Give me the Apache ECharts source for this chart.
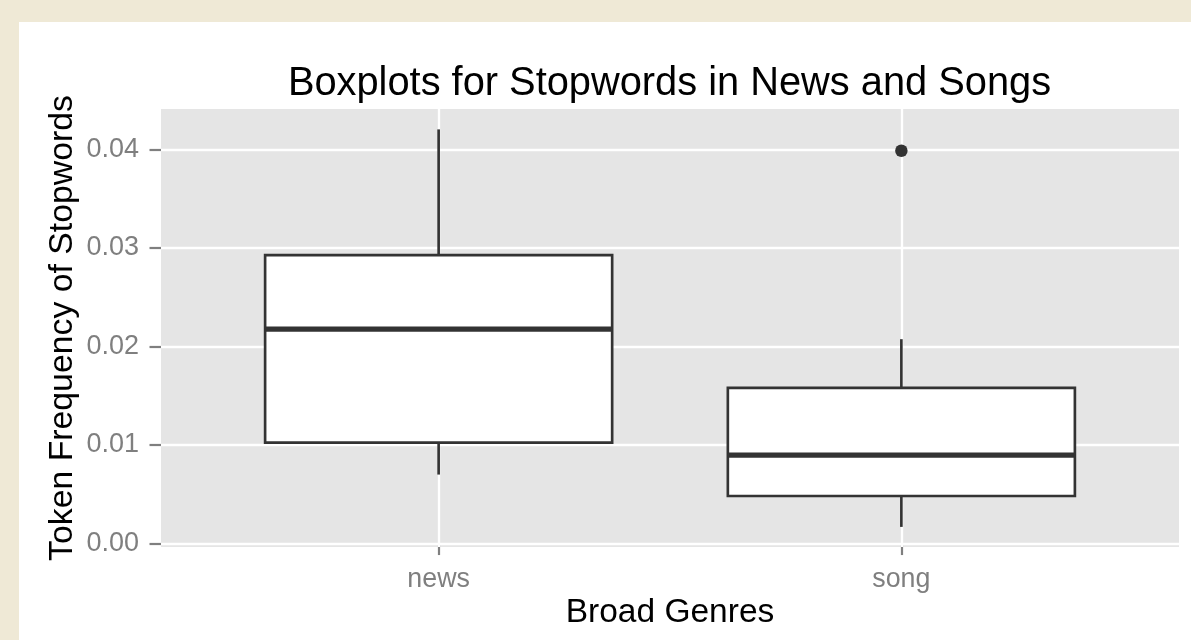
<!DOCTYPE html>
<html>
<head>
<meta charset="utf-8">
<script src="https://cdn.jsdelivr.net/npm/echarts@6/dist/echarts.min.js"></script>
<style>
  html, body { margin: 0; padding: 0; background: #efe9d6; }
  #wrap { position: relative; width: 1191px; height: 640px; overflow: hidden; }
  #paper { position: absolute; left: 19px; top: 22px; right: 0; bottom: 0; background: #ffffff; }
  #chart { position: absolute; left: 0; top: 0; width: 1191px; height: 640px; }
</style>
</head>
<body>
<div id="wrap">
  <div id="paper"></div>
  <div id="chart"></div>
</div>
<script>
// ---- data ----
const categories = ['news', 'song'];
const lowerWhisker = [0.00700, 0.00169];
const q1 = [0.01025, 0.00483];
const median = [0.02177, 0.00898];
const q3 = [0.02927, 0.01580];
const upperWhisker = [0.04203, 0.02074];
const outlierCategory = ['song'];
const outlierValue = [0.03986];
const yMajorTicks = [0, 0.01, 0.02, 0.03, 0.04];
const yMinorTicks = [0.005, 0.015, 0.025, 0.035];

const FONT = "'Liberation Sans', Arial, Helvetica, sans-serif";
const INK = '#333333';
const BOX_WIDTH = 0.75;

const xPos = categories.map((c, i) => i + 1);
const boxData = categories.map((c, i) => [xPos[i], lowerWhisker[i], q1[i], median[i], q3[i], upperWhisker[i]]);
const outlierData = outlierCategory.map((c, i) => [categories.indexOf(c) + 1, outlierValue[i]]);

const majorStyle = { color: '#ffffff', width: 2.3, type: 'solid' };
const minorStyle = { color: '#f2f2f2', width: 1.2, type: 'solid' };
const gridLines = []
  .concat(yMinorTicks.map(v => ({ yAxis: v, lineStyle: minorStyle })))
  .concat(yMajorTicks.map(v => ({ yAxis: v, lineStyle: majorStyle })))
  .concat(xPos.map(v => ({ xAxis: v, lineStyle: majorStyle })));

const chart = echarts.init(document.getElementById('chart'), null, { renderer: 'canvas' });
chart.setOption({
  animation: false,
  backgroundColor: 'transparent',
  textStyle: { fontFamily: FONT },
  title: {
    text: 'Boxplots for Stopwords in News and Songs',
    left: 669.5,
    top: 64,
    padding: 0,
    textAlign: 'center',
    textStyle: { fontFamily: FONT, fontSize: 39.8, fontWeight: 'normal', color: '#000000' }
  },
  grid: {
    left: 161, top: 109, width: 1018, height: 438,
    show: true, backgroundColor: '#e5e5e5', borderWidth: 0
  },
  xAxis: {
    type: 'value',
    min: 0.4, max: 2.6,
    name: 'Broad Genres',
    nameLocation: 'middle',
    nameGap: 49,
    nameMoveOverlap: false,
    nameTextStyle: { fontFamily: FONT, fontSize: 33.5, color: '#000000' },
    axisLine: { show: false },
    splitLine: { show: false },
    axisTick: { show: true, length: 11.5, customValues: xPos, lineStyle: { color: '#7f7f7f', width: 2.2 } },
    axisLabel: {
      customValues: xPos,
      margin: 19,
      fontFamily: FONT, fontSize: 26.8, color: '#7f7f7f',
      formatter: v => categories[Math.round(v) - 1] || ''
    }
  },
  yAxis: {
    type: 'value',
    min: -0.00035, max: 0.0441,
    name: 'Token Frequency of Stopwords',
    nameLocation: 'middle',
    nameGap: 81,
    nameMoveOverlap: false,
    nameTextStyle: { fontFamily: FONT, fontSize: 33.8, color: '#000000' },
    axisLine: { show: false },
    splitLine: { show: false },
    axisTick: { show: true, length: 11.5, customValues: yMajorTicks, lineStyle: { color: '#7f7f7f', width: 2.2 } },
    axisLabel: {
      customValues: yMajorTicks,
      margin: 22,
      fontFamily: FONT, fontSize: 27, color: '#7f7f7f',
      formatter: v => v.toFixed(2)
    }
  },
  series: [
    {
      type: 'custom',
      z: 3,
      data: boxData,
      encode: { x: 0, y: [1, 2, 3, 4, 5] },
      renderItem: function (params, api) {
        const x = api.value(0);
        const pLo = api.coord([x, api.value(1)]);
        const pQ1 = api.coord([x, api.value(2)]);
        const pMed = api.coord([x, api.value(3)]);
        const pQ3 = api.coord([x, api.value(4)]);
        const pHi = api.coord([x, api.value(5)]);
        const half = api.size([BOX_WIDTH, 0])[0] / 2;
        const lw = 2.65;
        return {
          type: 'group',
          children: [
            { type: 'line', shape: { x1: pHi[0], y1: pHi[1], x2: pQ3[0], y2: pQ3[1] }, style: { stroke: INK, lineWidth: lw } },
            { type: 'line', shape: { x1: pQ1[0], y1: pQ1[1], x2: pLo[0], y2: pLo[1] }, style: { stroke: INK, lineWidth: lw } },
            { type: 'rect', shape: { x: pQ3[0] - half, y: pQ3[1], width: half * 2, height: pQ1[1] - pQ3[1] }, style: { fill: '#ffffff', stroke: INK, lineWidth: lw } },
            { type: 'line', shape: { x1: pMed[0] - half, y1: pMed[1], x2: pMed[0] + half, y2: pMed[1] }, style: { stroke: INK, lineWidth: lw * 2 } }
          ]
        };
      },
      markLine: {
        silent: true,
        z: 1,
        symbol: ['none', 'none'],
        label: { show: false },
        emphasis: { disabled: true },
        data: gridLines
      }
    },
    {
      type: 'scatter',
      z: 4,
      data: outlierData,
      symbol: 'circle',
      symbolSize: 12.5,
      itemStyle: { color: INK, opacity: 1 },
      silent: true
    }
  ]
});
</script>
</body>
</html>
